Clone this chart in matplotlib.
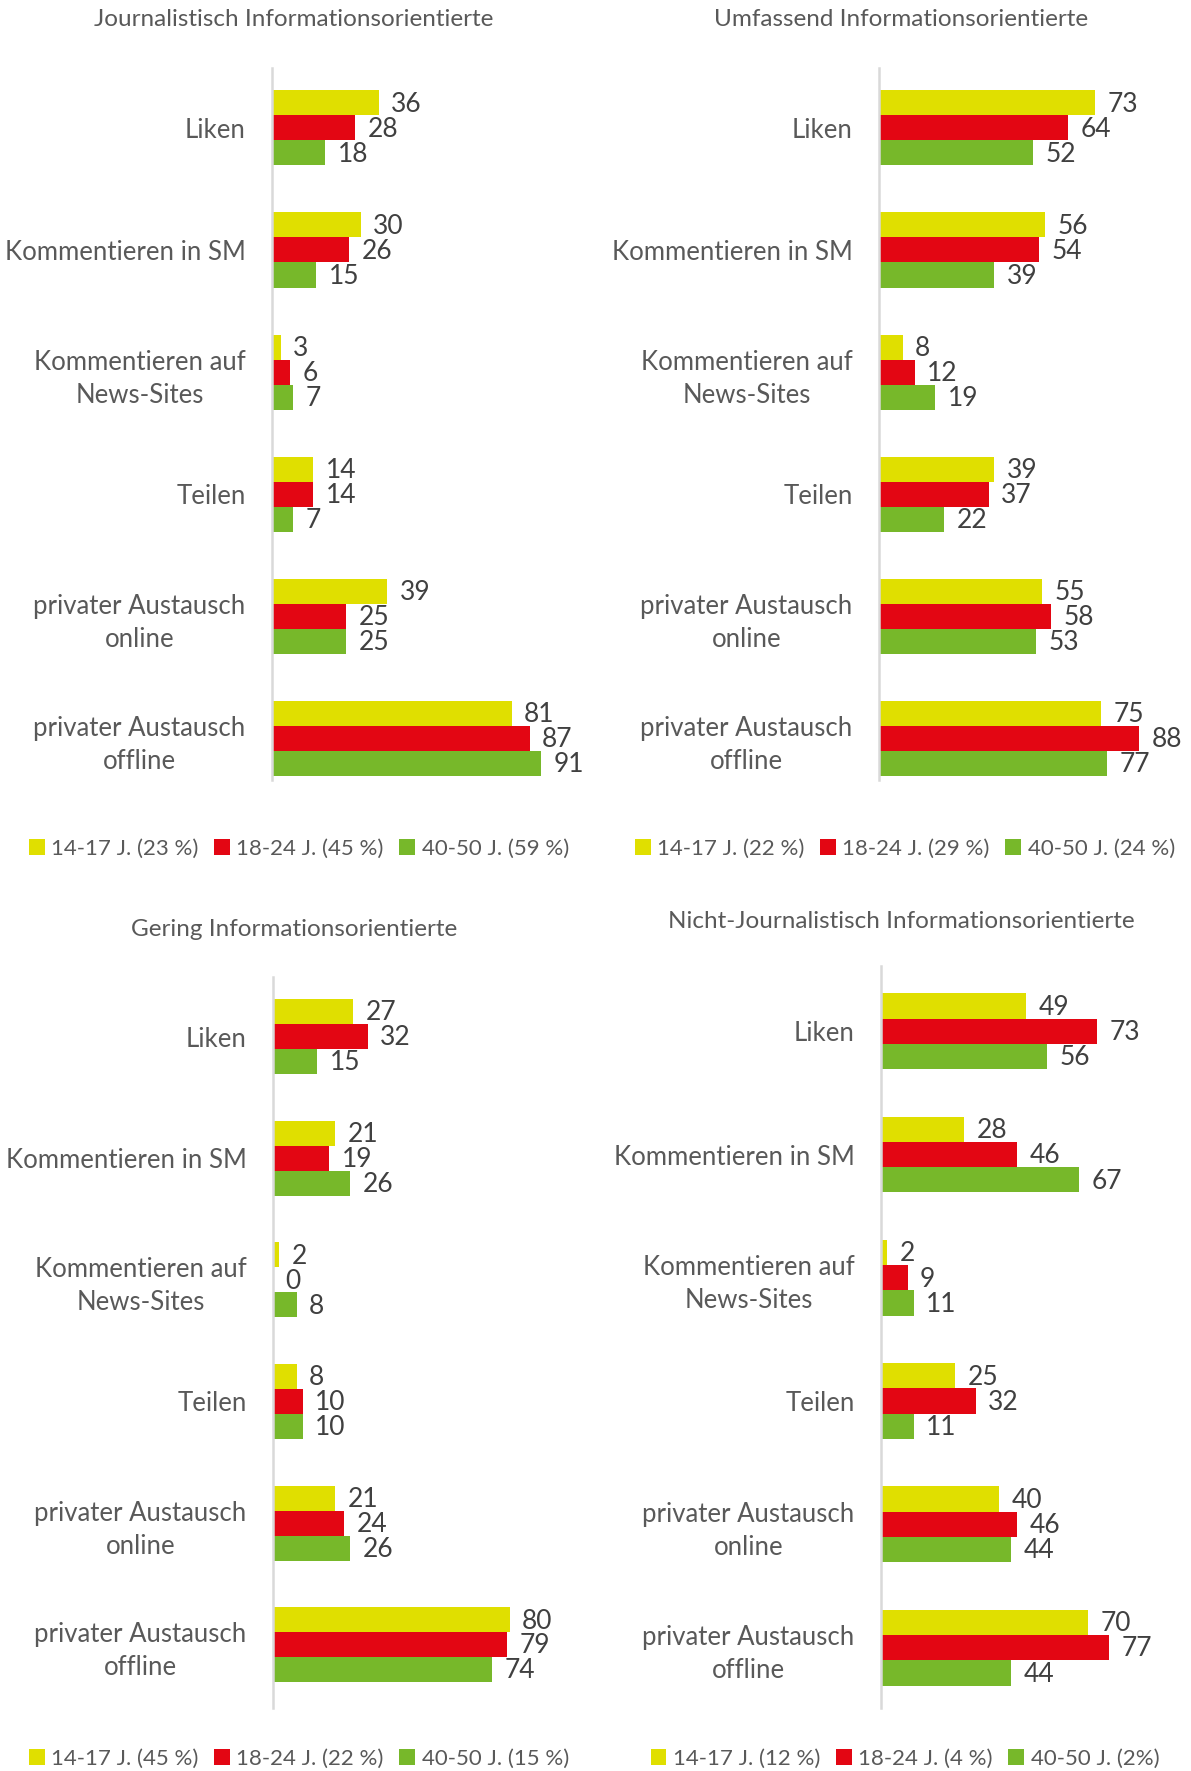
import matplotlib
matplotlib.use("Agg")
import matplotlib.pyplot as plt
from matplotlib.patches import Patch
import numpy as np

plt.rcParams['font.family'] = ['Lato', 'DejaVu Sans']

categories = ["Liken", "Kommentieren in SM", "Kommentieren auf\nNews-Sites", "Teilen",
              "privater Austausch\nonline", "privater Austausch\noffline"]

titles = ["Journalistisch Informationsorientierte", "Umfassend Informationsorientierte",
          "Gering Informationsorientierte", "Nicht-Journalistisch Informationsorientierte"]

# values per panel: 14-17, 18-24, 40-50
p1_1417 = [36, 30, 3, 14, 39, 81]
p1_1824 = [28, 26, 6, 14, 25, 87]
p1_4050 = [18, 15, 7, 7, 25, 91]

p2_1417 = [73, 56, 8, 39, 55, 75]
p2_1824 = [64, 54, 12, 37, 58, 88]
p2_4050 = [52, 39, 19, 22, 53, 77]

p3_1417 = [27, 21, 2, 8, 21, 80]
p3_1824 = [32, 19, 0, 10, 24, 79]
p3_4050 = [15, 26, 8, 10, 26, 74]

p4_1417 = [49, 28, 2, 25, 40, 70]
p4_1824 = [73, 46, 9, 32, 46, 77]
p4_4050 = [56, 67, 11, 11, 44, 44]

legend_labels = [
    ["14-17 J. (23 %)", "18-24 J. (45 %)", "40-50 J. (59 %)"],
    ["14-17 J. (22 %)", "18-24 J. (29 %)", "40-50 J. (24 %)"],
    ["14-17 J. (45 %)", "18-24 J. (22 %)", "40-50 J. (15 %)"],
    ["14-17 J. (12 %)", "18-24 J. (4 %)", "40-50 J. (2%)"],
]

panels = [
    (p1_1417, p1_1824, p1_4050),
    (p2_1417, p2_1824, p2_4050),
    (p3_1417, p3_1824, p3_4050),
    (p4_1417, p4_1824, p4_4050),
]

colors = ["#E0DF00", "#E30613", "#77B82A"]
text_col = "#595959"
val_col = "#404040"

W, H = 1191, 1771
fig = plt.figure(figsize=(W / 100, H / 100), dpi=100)

# axes geometry in pixels: (axis_x, top_y, bottom_y, ylim_top, ylim_bottom)
geo = [
    (272, 68, 780, -0.49, 5.34),
    (879, 68, 780, -0.49, 5.34),
    (273, 977, 1708, -0.49, 5.52),
    (881, 966, 1708, -0.53, 5.49),
]
title_pos = [(294, 20), (901, 20), (294, 930), (901, 922)]
legend_pos = [(299, 849), (905, 849), (299, 1759), (905, 1759)]

px_per_unit = 2.96
xmax = 110

bh = 0.205
for i, (vals, g, tp, lp) in enumerate(zip(panels, geo, title_pos, legend_pos)):
    ax_x, top, bot, yt, yb = g
    ax = fig.add_axes([ax_x / W, 1 - bot / H, xmax * px_per_unit / W, (bot - top) / H])
    y = np.arange(len(categories))
    for k, (v, c) in enumerate(zip(vals, colors)):
        yy = y + (k - 1) * bh
        ax.barh(yy, v, height=bh, color=c, edgecolor='none')
        for yv, val in zip(yy, v):
            ax.text(val + 4.2, yv + 0.01, str(val), va='center', ha='left',
                    fontsize=19, color=val_col)
    ax.set_xlim(0, xmax)
    ax.set_ylim(yb, yt)
    ax.set_yticks(y)
    ax.set_yticklabels(categories, fontsize=18.5, color=text_col)
    for t in ax.get_yticklabels():
        t.set_multialignment('center')
        t.set_linespacing(1.4)
    ax.tick_params(axis='y', length=0, pad=19)
    ax.set_xticks([])
    for s in ['top', 'right', 'bottom']:
        ax.spines[s].set_visible(False)
    ax.spines['left'].set_color('#D9D9D9')
    ax.spines['left'].set_linewidth(1.8)
    ax.patch.set_alpha(0)

    fig.text(tp[0] / W, 1 - tp[1] / H, titles[i], ha='center', va='center',
             fontsize=17.5, color=text_col)

    handles = [Patch(facecolor=c, edgecolor='none') for c in colors]
    fig.legend(handles, legend_labels[i], loc='center',
               bbox_to_anchor=(lp[0] / W, 1 - lp[1] / H), ncol=3, frameon=False,
               fontsize=16, labelcolor=text_col, handlelength=0.7, handleheight=0.7,
               handletextpad=0.3, columnspacing=0.7)

fig.savefig("out.png", dpi=100, facecolor='white')
